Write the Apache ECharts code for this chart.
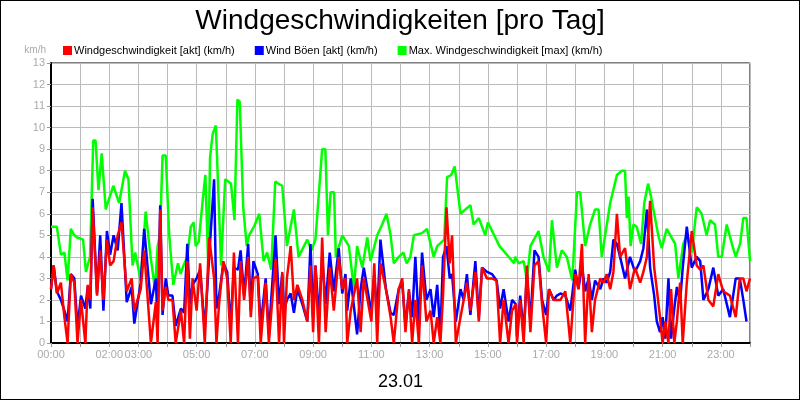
<!DOCTYPE html>
<html><head><meta charset="utf-8">
<script src="https://cdn.jsdelivr.net/npm/echarts@6/dist/echarts.min.js"></script>
<style>body{margin:0}#main{width:798px;height:398px;border:1px solid #000}</style>
</head><body><div id="main"></div>
<script>
var tRed = [0,0.09,0.2,0.34,0.46,0.57,0.68,0.8,0.91,1.03,1.18,1.26,1.35,1.43,1.58,1.69,1.8,1.92,2.03,2.15,2.29,2.42,2.6,2.77,2.86,3.08,3.2,3.43,3.6,3.66,3.75,3.83,3.94,4.03,4.17,4.28,4.46,4.57,4.68,4.77,4.86,5.0,5.12,5.28,5.43,5.6,5.68,5.77,5.92,6.05,6.17,6.28,6.42,6.51,6.63,6.77,6.86,6.95,7.1,7.2,7.37,7.48,7.71,7.83,7.94,8.0,8.1,8.23,8.34,8.46,8.63,8.8,8.91,9.0,9.08,9.2,9.31,9.43,9.57,9.71,9.88,10.0,10.11,10.17,10.29,10.51,10.63,10.74,11.0,11.1,11.2,11.31,11.5,11.66,11.77,11.94,12.06,12.17,12.29,12.4,12.51,12.63,12.74,12.89,13.03,13.14,13.26,13.37,13.46,13.58,13.69,13.77,13.9,14.06,14.17,14.28,14.4,14.57,14.69,14.8,14.97,15.14,15.3,15.42,15.54,15.71,15.83,15.96,16.0,16.11,16.23,16.34,16.46,16.6,16.74,16.86,17.0,17.1,17.26,17.37,17.49,17.66,17.83,18.0,18.11,18.23,18.34,18.46,18.57,18.68,18.86,18.97,19.08,19.2,19.31,19.43,19.54,19.71,19.88,20.05,20.23,20.34,20.46,20.57,20.71,20.8,20.91,21.0,21.09,21.2,21.29,21.4,21.49,21.6,21.69,21.83,22.0,22.17,22.29,22.4,22.57,22.74,22.91,23.08,23.31,23.51,23.65,23.77,23.88,24.0];
var red = [2.5,3.6,2.3,2.8,1.2,0,3.2,2.8,0,2.0,0,2.7,2.0,6.3,2.2,4.3,2.0,4.8,3.6,3.8,5.0,5.6,2.4,3.0,1.5,2.5,4.3,0,1.9,0,6.2,1.5,2.6,2.0,2.0,0,1.5,0,3.8,0.2,3.0,1.5,3.7,0,4.9,3.0,0,1.8,3.8,3.0,0,4.2,0,3.8,2.0,4.0,1.2,3.0,3.1,0,2.8,0,3.9,0,3.3,0,3.0,4.5,2.0,2.7,2.0,1.0,3.6,0.5,3.6,0,4.9,0.5,3.5,1.5,4.0,2.5,3.0,0,1.5,3.0,0.5,3.0,1.0,3.7,0,3.7,2.5,1.2,0,2.5,3.0,0.5,2.5,0,2.0,0,3.6,1.0,1.5,0,1.2,0,2.2,6.3,3.7,5.0,0,1.2,2.0,2.8,1.5,3.3,1.0,3.5,3.0,3.0,2.9,0,2.0,0,1.5,1.8,0,2.0,0,3.6,0.5,3.6,3.8,1.8,0,2.5,2.0,2.0,2.0,2.4,0,3.2,2.5,4.6,0,3.2,0.5,2.0,3.0,2.8,3.2,2.5,3.3,6.0,4.0,4.4,2.5,3.5,2.8,3.3,4.0,6.6,3.5,2.5,1.2,0,1.0,0,2.5,0,1.0,2.8,0,2.8,5.2,3.6,3.4,3.6,2.0,1.7,3.2,2.4,2.2,1.2,3.0,3.0,2.4,3.0];
var blue = [2.5,3.6,2.4,2.0,1.5,1.0,3.2,3.0,0.7,2.2,1.6,2.6,1.6,6.7,2.3,5.0,1.5,5.2,4.1,5.0,4.3,6.5,1.9,2.6,0.9,2.8,5.3,1.8,3.0,0.8,6.4,1.3,3.0,2.2,2.2,0.8,1.6,1.4,4.6,1.8,2.7,3.0,3.4,0.6,4.0,7.6,1.6,2.2,3.7,3.3,0.8,3.5,3.4,4.3,2.2,4.6,1.5,3.8,3.2,0.8,3.0,0.4,5.0,1.8,3.2,1.5,2.0,2.3,1.4,2.5,1.8,1.0,4.6,1.2,3.6,1.2,4.0,1.8,4.2,2.4,4.4,2.3,3.2,1.5,3.0,0.4,2.5,3.5,1.4,3.2,1.2,4.8,2.5,1.4,1.3,2.5,2.8,0.8,2.4,1.2,4.0,0.8,4.2,2.0,2.5,1.2,2.7,0.4,4.0,4.5,3.0,3.2,1.0,2.5,2.0,3.2,1.3,3.8,1.2,3.5,3.3,3.2,2.9,1.6,2.5,1.0,2.0,1.8,0.3,2.2,0.5,3.2,1.0,4.3,4.0,2.0,1.3,2.5,2.0,2.2,2.3,2.2,1.5,3.4,2.5,3.6,2.4,3.0,2.0,2.9,2.5,3.0,2.8,3.3,4.8,4.6,4.0,3.0,4.0,3.3,3.8,4.4,6.2,3.5,2.2,1.0,0.5,1.2,0.2,3.0,0.2,1.6,2.6,1.9,3.5,5.4,3.5,4.0,3.8,2.0,2.5,3.5,2.2,2.5,1.2,3.0,3.0,2.0,1.0];
var tGreen = [0,0.2,0.34,0.46,0.52,0.57,0.68,0.8,0.9,1.1,1.2,1.34,1.45,1.53,1.63,1.74,1.88,1.97,2.14,2.34,2.54,2.66,2.8,2.89,3.08,3.25,3.42,3.57,3.66,3.74,3.83,3.94,4.06,4.2,4.36,4.45,4.55,4.68,4.8,4.9,4.97,5.07,5.2,5.3,5.4,5.46,5.55,5.66,5.84,5.98,6.18,6.3,6.4,6.48,6.6,6.72,6.8,6.97,7.15,7.3,7.42,7.56,7.7,7.8,7.94,8.1,8.34,8.5,8.8,8.94,9.08,9.31,9.42,9.51,9.6,9.72,9.78,10.0,10.23,10.4,10.51,10.69,10.86,10.97,11.2,11.37,11.52,11.66,11.77,11.94,12.1,12.21,12.34,12.46,12.74,12.91,13.14,13.26,13.5,13.6,13.74,13.86,14.06,14.4,14.51,14.69,14.91,15.0,15.4,15.9,15.94,16.06,16.23,16.34,16.46,16.51,16.74,16.91,17.1,17.2,17.37,17.54,17.71,17.9,18.06,18.17,18.34,18.51,18.68,18.8,18.91,19.2,19.43,19.6,19.71,19.77,19.83,19.9,20.0,20.11,20.26,20.37,20.5,20.6,20.85,20.97,21.14,21.43,21.54,21.71,21.83,22.0,22.17,22.34,22.51,22.63,22.8,22.91,23.03,23.2,23.4,23.51,23.66,23.77,23.88,24.0];
var green = [5.4,5.4,4.1,4.2,4.2,2.9,5.3,5.0,4.9,4.8,3.3,4.0,9.4,9.4,7.1,8.8,6.2,6.6,7.3,6.5,8.0,7.6,3.6,4.2,2.9,6.1,4.0,2.5,4.5,5.0,8.7,8.7,5.0,2.7,3.7,3.2,3.6,4.0,5.4,5.6,4.5,4.7,6.5,7.8,3.6,8.6,9.7,10.1,3.6,7.6,7.4,5.7,11.3,11.2,6.3,4.5,5.0,5.4,6.0,3.8,4.2,3.4,7.5,7.4,7.3,4.5,6.2,4.0,4.8,4.3,4.8,9.0,9.0,5.0,7.0,7.0,4.0,5.0,4.5,2.5,4.5,3.5,4.9,3.8,5.0,5.5,6.0,5.0,3.7,4.0,4.2,3.7,4.0,5.0,5.1,5.3,4.0,4.5,4.8,7.7,7.8,8.2,6.0,6.4,5.5,5.8,5.0,5.6,4.5,3.7,4.0,3.7,3.8,2.9,4.5,4.5,5.2,4.0,3.3,5.7,3.5,4.3,4.0,2.9,7.0,7.0,4.5,5.5,6.2,6.2,4.0,6.5,7.8,8.0,8.0,5.8,6.8,4.5,5.5,5.4,4.6,6.5,7.4,6.8,5.0,4.4,5.3,4.6,3.0,4.6,5.0,4.2,6.3,6.0,5.0,5.7,5.5,4.0,4.0,5.5,4.5,4.0,4.6,5.8,5.8,3.8,4.5];
var hourLabels = {0:'00:00',2:'02:00',3:'03:00',5:'05:00',7:'07:00',9:'09:00',11:'11:00',13:'13:00',15:'15:00',17:'17:00',19:'19:00',21:'21:00',23:'23:00'};

function pairs(t, v) { return t.map(function(x, i) { return [x, v[i]]; }); }

var myChart = echarts.init(document.getElementById('main'));
var option = {
  backgroundColor: '#fff',
  animation: false,
  title: { text: 'Windgeschwindigkeiten [pro Tag]', left: 'center', top: 1,
    textStyle: { fontFamily: 'Liberation Sans', fontSize: 28, fontWeight: 'normal', color: '#000' } },
  legend: {
    left: 57, top: 39, itemWidth: 9, itemHeight: 9, itemGap: 20, icon: 'rect',
    textStyle: { fontFamily: 'Liberation Sans', fontSize: 11, color: '#000', padding: [0, 0, 0, -3] },
    data: ['Windgeschwindigkeit [akt] (km/h)', 'Wind Böen [akt] (km/h)', 'Max. Windgeschwindigkeit [max] (km/h)']
  },
  grid: { left: 50, right: 49, top: 62, bottom: 56, show: true, borderColor: '#000', borderWidth: 1 },
  xAxis: {
    type: 'value', min: 0, max: 24, interval: 1,
    name: '23.01', nameLocation: 'middle', nameGap: 30,
    nameTextStyle: { fontFamily: 'Liberation Sans', fontSize: 18, color: '#000' },
    axisLine: { lineStyle: { color: '#000', width: 2 } },
    axisTick: { show: true, length: 4, lineStyle: { color: '#999' } },
    axisLabel: { color: '#aaa', fontSize: 11, fontFamily: 'Liberation Sans', margin: 6,
      formatter: function(v) { return hourLabels[v] || ''; } },
    splitLine: { lineStyle: { color: '#bbb' } }
  },
  yAxis: {
    type: 'value', min: 0, max: 13, interval: 1,
    name: 'km/h', nameGap: 8, nameLocation: 'end',
    nameTextStyle: { color: '#aaa', fontSize: 10, align: 'right', padding: [0, 5, 0, 0] },
    axisLine: { show: true, lineStyle: { color: '#000', width: 2 } },
    axisTick: { show: true, length: 4, lineStyle: { color: '#999' } },
    axisLabel: { color: '#aaa', fontSize: 11, fontFamily: 'Liberation Sans', margin: 6 },
    splitLine: { lineStyle: { color: '#bbb' } }
  },
  series: [
    { name: 'Max. Windgeschwindigkeit [max] (km/h)', type: 'line', symbol: 'none', z: 1,
      itemStyle: { color: '#00ff00' }, lineStyle: { width: 2.5, color: '#00ff00' }, data: pairs(tGreen, green) },
    { name: 'Wind Böen [akt] (km/h)', type: 'line', symbol: 'none', z: 2,
      itemStyle: { color: '#0000ff' }, lineStyle: { width: 2.5, color: '#0000ff' }, data: pairs(tRed, blue) },
    { name: 'Windgeschwindigkeit [akt] (km/h)', type: 'line', symbol: 'none', z: 3,
      itemStyle: { color: '#ff0000' }, lineStyle: { width: 2.5, color: '#ff0000' }, data: pairs(tRed, red) }
  ]
};
myChart.setOption(option);
</script></body></html>
